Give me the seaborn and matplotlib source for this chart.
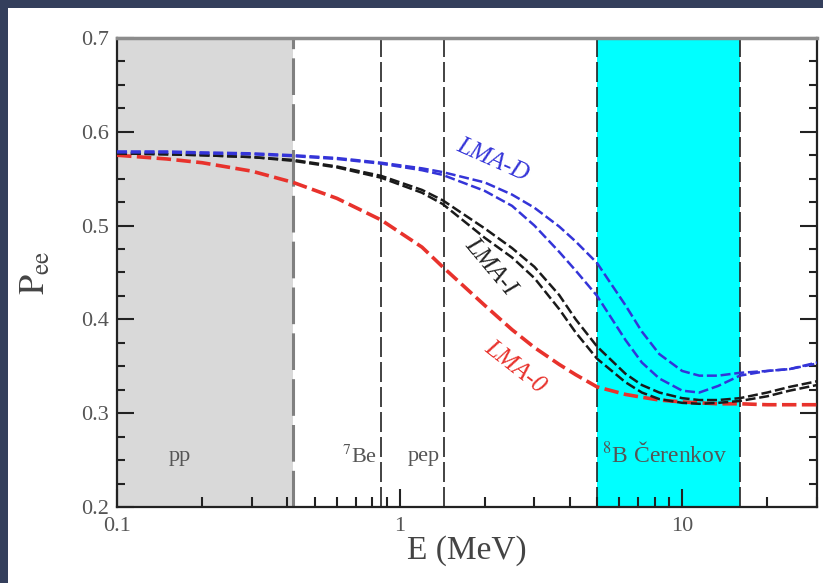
import matplotlib
matplotlib.use("Agg")
import matplotlib.pyplot as plt
from matplotlib.patches import Rectangle
from matplotlib.ticker import LogLocator, MultipleLocator, NullFormatter
import seaborn as sns
import pandas as pd

# energias (MeV) donde se leyeron las curvas
energy = [0.1, 0.15, 0.2, 0.3, 0.42, 0.6, 0.86, 1.2, 1.42, 2.0, 2.5, 3.0, 3.67,
          4.2, 5.0, 6.3, 7.2, 8.3, 10.0, 11.5, 13.4, 16.0, 20.0, 24.0, 30.0]

lma0 = [0.575, 0.571, 0.567, 0.558, 0.546, 0.529, 0.506, 0.477, 0.456, 0.415,
        0.389, 0.370, 0.352, 0.341, 0.328, 0.320, 0.317, 0.314, 0.312, 0.311,
        0.310, 0.310, 0.309, 0.309, 0.309]
lmaI_a = [0.577, 0.576, 0.575, 0.573, 0.570, 0.563, 0.553, 0.538, 0.527, 0.497,
          0.476, 0.456, 0.426, 0.400, 0.371, 0.342, 0.330, 0.322, 0.316, 0.314,
          0.314, 0.316, 0.322, 0.328, 0.334]
lmaI_b = [0.577, 0.576, 0.575, 0.573, 0.569, 0.562, 0.551, 0.535, 0.523, 0.487,
          0.466, 0.444, 0.411, 0.386, 0.358, 0.333, 0.322, 0.315, 0.311, 0.310,
          0.311, 0.313, 0.318, 0.324, 0.330]
lmaD_a = [0.579, 0.579, 0.578, 0.577, 0.575, 0.572, 0.567, 0.561, 0.557, 0.546,
          0.533, 0.519, 0.499, 0.483, 0.460, 0.415, 0.387, 0.363, 0.345, 0.340,
          0.340, 0.343, 0.345, 0.347, 0.354]
lmaD_b = [0.578, 0.578, 0.577, 0.576, 0.574, 0.571, 0.566, 0.559, 0.554, 0.537,
          0.521, 0.500, 0.472, 0.452, 0.425, 0.378, 0.354, 0.337, 0.324, 0.322,
          0.329, 0.340, 0.345, 0.347, 0.353]

curves = {'LMA-0': lma0, 'LMA-I a': lmaI_a, 'LMA-I b': lmaI_b,
          'LMA-D a': lmaD_a, 'LMA-D b': lmaD_b}
colors = {'LMA-0': '#e8322c', 'LMA-I a': '#1a1a1a', 'LMA-I b': '#1a1a1a',
          'LMA-D a': '#3434d8', 'LMA-D b': '#3434d8'}

rows = []
for name, vals in curves.items():
    for e, p in zip(energy, vals):
        rows.append({'E': e, 'P': p, 'curve': name})
df = pd.DataFrame(rows)

# regiones de los experimentos
pp_end = 0.42
be7_line = 0.862
pep_line = 1.44
b8_range = (5.0, 16.0)

sns.set_theme(style='ticks')
plt.rcParams['font.family'] = ['Liberation Serif', 'DejaVu Serif']
plt.rcParams['mathtext.fontset'] = 'stix'

fig = plt.figure(figsize=(8.23, 5.83), dpi=100)
fig.patch.set_facecolor('#343f5c')
fig.add_artist(Rectangle((0.0097, 0), 1, 0.986, transform=fig.transFigure,
                         facecolor='white', edgecolor='none', zorder=0))
ax = fig.add_axes([0.1422, 0.1304, 0.8505, 0.8045])
ax.set_facecolor('white')

ax.axvspan(0.1, pp_end, color='#d9d9d9', zorder=0, lw=0)
ax.axvspan(b8_range[0], b8_range[1], color='#00ffff', zorder=0, lw=0)
ax.axvline(pp_end, color='#808080', lw=2.2, ls=(0, (12, 3)), zorder=1)
for xv in [be7_line, pep_line, b8_range[0], b8_range[1]]:
    ax.axvline(xv, color='#222222', lw=1.2, ls=(0, (12, 3)), zorder=1)

for name in curves:
    sub = df[df['curve'] == name]
    lw = 2.6 if name == 'LMA-0' else 1.8
    sns.lineplot(data=sub, x='E', y='P', color=colors[name], lw=lw,
                 linestyle=(0, (4, 1.5)), ax=ax, legend=False, zorder=3)

ax.set_xscale('log')
ax.set_xlim(0.1, 30)
ax.set_ylim(0.2, 0.7)
ax.set_xticks([0.1, 1, 10])
ax.set_xticklabels(['0.1', '1', '10'])
ax.xaxis.set_minor_locator(LogLocator(base=10, subs=range(2, 10)))
ax.xaxis.set_minor_formatter(NullFormatter())
ax.set_yticks([0.2, 0.3, 0.4, 0.5, 0.6, 0.7])
ax.set_yticklabels(['0.2', '0.3', '0.4', '0.5', '0.6', '0.7'])
ax.yaxis.set_minor_locator(MultipleLocator(0.025))

ax.tick_params(axis='both', which='both', direction='in', width=1.5,
               colors='#222222', labelcolor='#555555', labelsize=16)
ax.tick_params(axis='x', which='major', length=13, pad=7)
ax.tick_params(axis='x', which='minor', length=7)
ax.tick_params(axis='y', which='major', length=12, pad=6, right=True)
ax.tick_params(axis='y', which='minor', length=6, right=True)
for side in ['left', 'bottom', 'right']:
    ax.spines[side].set_linewidth(1.6)
    ax.spines[side].set_color('#222222')
ax.spines['top'].set_linewidth(2.5)
ax.spines['top'].set_color('#8c8c8c')

ax.set_xlabel('E (MeV)', fontsize=24, color='#444444', labelpad=0)
ax.set_ylabel(r'$\mathrm{P_{ee}}$', fontsize=26, color='#444444', labelpad=20)

ax.text(2.13, 0.570, 'LMA-D', color='#3434d8', fontsize=18, style='italic',
        rotation=-24, ha='center', va='center')
ax.text(2.1, 0.456, 'LMA-I', color='#222222', fontsize=18, style='italic',
        rotation=-50, ha='center', va='center')
ax.text(2.55, 0.349, 'LMA-0', color='#e8322c', fontsize=18, style='italic',
        rotation=-38, ha='center', va='center')

ax.text(0.167, 0.254, 'pp', color='#555555', fontsize=16, ha='center', va='center')
ax.text(0.83, 0.254, r'$^{7}$Be', color='#555555', fontsize=16, ha='right', va='center')
ax.text(1.39, 0.254, 'pep', color='#555555', fontsize=16, ha='right', va='center')
ax.text(5.2, 0.256, r'$^{8}$B Čerenkov', color='#555555', fontsize=17,
        ha='left', va='center')

fig.savefig('out.png', dpi=100, facecolor=fig.get_facecolor())
